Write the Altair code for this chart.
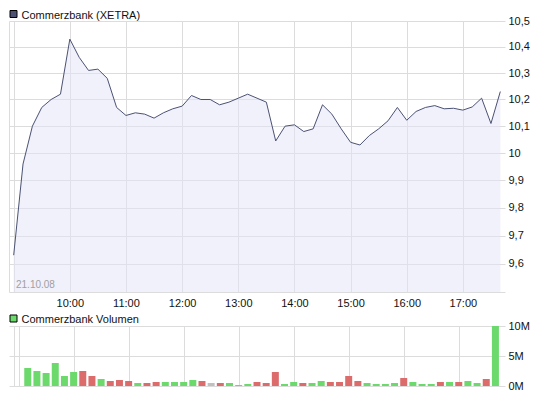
import json
import altair as alt
import pandas as pd

# ---------------- data ----------------
times = ["09:00", "09:10", "09:20", "09:30", "09:40", "09:50",
         "10:00", "10:10", "10:20", "10:30", "10:40", "10:50",
         "11:00", "11:10", "11:20", "11:30", "11:40", "11:50",
         "12:00", "12:10", "12:20", "12:30", "12:40", "12:50",
         "13:00", "13:10", "13:20", "13:30", "13:40", "13:50",
         "14:00", "14:10", "14:20", "14:30", "14:40", "14:50",
         "15:00", "15:10", "15:20", "15:30", "15:40", "15:50",
         "16:00", "16:10", "16:20", "16:30", "16:40", "16:50",
         "17:00", "17:10", "17:20", "17:30", "17:40"]

price = [9.63, 9.96, 10.10, 10.17, 10.20, 10.22,
         10.43, 10.36, 10.31, 10.315, 10.28, 10.17,
         10.14, 10.15, 10.145, 10.13, 10.15, 10.165,
         10.175, 10.215, 10.20, 10.20, 10.18, 10.19,
         10.205, 10.22, 10.205, 10.19, 10.045, 10.10,
         10.105, 10.08, 10.09, 10.18, 10.145, 10.09,
         10.04, 10.03, 10.065, 10.09, 10.12, 10.17,
         10.122, 10.155, 10.17, 10.177, 10.165, 10.167,
         10.16, 10.172, 10.205, 10.11, 10.23]

# volume bars from 09:10 to 17:40, in millions
volume_m = [3.0, 2.5, 2.17, 3.83, 1.67, 2.33, 2.5, 1.67, 1.17, 0.83,
            1.0, 0.83, 0.5, 0.5, 0.67, 0.67, 0.67, 0.67, 1.0, 0.83,
            0.5, 0.5, 0.5, 0.17, 0.33, 0.67, 0.5, 2.33, 0.33, 0.67,
            0.5, 0.5, 0.83, 0.67, 0.67, 1.67, 0.83, 0.5, 0.33, 0.33,
            0.5, 1.33, 0.67, 0.33, 0.33, 0.67, 0.67, 0.67, 0.83, 0.5,
            1.17, 10.0]

direction = ["up", "up", "up", "up", "up", "up", "down", "down", "up", "down",
             "down", "down", "up", "down", "down", "up", "up", "up", "up", "down",
             "flat", "down", "up", "up", "up", "down", "down", "down", "up", "up",
             "down", "up", "up", "down", "down", "down", "down", "up", "up", "up",
             "up", "down", "up", "up", "up", "down", "up", "down", "up", "up",
             "down", "up"]

x_start, x_end = "08:55", "17:45"
hour_ticks = ["09:00", "10:00", "11:00", "12:00", "13:00",
              "14:00", "15:00", "16:00", "17:00"]
hour_labels = ["", "10:00", "11:00", "12:00", "13:00",
               "14:00", "15:00", "16:00", "17:00"]

price_ticks = [9.6, 9.7, 9.8, 9.9, 10.0, 10.1, 10.2, 10.3, 10.4, 10.5]
price_domain = [9.5, 10.5]
vol_ticks = [0, 5_000_000, 10_000_000]
vol_tick_labels = ["0M", "5M", "10M"]

price_title = "Commerzbank (XETRA)"
vol_title = "Commerzbank Volumen"
date_label = "21.10.08"

# ---------------- helpers ----------------
def to_min(s):
    h, m = s.split(":")
    return (int(h) - 9) * 60 + int(m)

price_df = pd.DataFrame({"t": [to_min(s) for s in times], "price": price})
vol_df = pd.DataFrame({
    "t": [to_min(s) for s in times[1:]],
    "vol": [v * 1_000_000 for v in volume_m],
    "dir": direction,
})

x_grid = [to_min(x_start)] + [to_min(h) for h in hour_ticks]
x_label_map = {str(to_min(h)): lab for h, lab in zip(hour_ticks, hour_labels)}
x_label_expr = json.dumps(x_label_map) + "[datum.value] || ''"
vol_label_map = {str(v): lab for v, lab in zip(vol_ticks, vol_tick_labels)}
vol_label_expr = json.dumps(vol_label_map) + "[datum.value] || ''"

FONT = "Liberation Sans"
TXT = "#111111"
GRID = "#dcdcdc"
LINE = "#4b5273"
FILL = "#e3e3f9"
W, H1, H2 = 496, 271, 60

xscale = alt.Scale(domain=[to_min(x_start), to_min(x_end)], nice=False, zero=False)

# ---------------- price panel ----------------
x_price = alt.X("t:Q", scale=xscale, title=None,
                axis=alt.Axis(values=x_grid, labelExpr=x_label_expr, grid=True,
                              gridColor=GRID, domain=True, domainColor=GRID,
                              ticks=False, labelPadding=5, labelFontSize=11,
                              labelFont=FONT, labelColor=TXT, labelAngle=0,
                              labelFlush=False))
y_price = alt.Y("price:Q",
                scale=alt.Scale(type="log", domain=price_domain, nice=False, zero=False),
                title=None,
                axis=alt.Axis(orient="right", values=price_ticks,
                              labelExpr="replace(format(datum.value, '.1~f'), '.', ',')",
                              grid=True, gridColor=GRID, domain=False, ticks=False,
                              labelPadding=3, labelFontSize=11, labelFont=FONT,
                              labelColor=TXT, labelFlush=False))

pbase = alt.Chart(price_df)
area = pbase.mark_area(color=FILL, opacity=0.5).encode(
    x=x_price, y=y_price, y2=alt.Y2(datum=price_domain[0]))
line = pbase.mark_line(color=LINE, strokeWidth=1).encode(x="t:Q", y="price:Q")

date_txt = alt.Chart(pd.DataFrame({"label": [date_label]})).mark_text(
    align="left", baseline="alphabetic", fontSize=10, font=FONT, color="#a0a0a0"
).encode(x=alt.value(7), y=alt.value(H1 - 4), text="label:N")

p_leg_df = pd.DataFrame({"label": [price_title]})
p_sq = alt.Chart(p_leg_df).mark_square(size=49, fill=LINE, stroke="#000000",
                                       strokeWidth=1, opacity=1).encode(
    x=alt.value(4.5), y=alt.value(-7))
p_txt = alt.Chart(p_leg_df).mark_text(align="left", baseline="top", fontSize=11,
                                      font=FONT, color=TXT).encode(
    x=alt.value(12.5), y=alt.value(-11.5), text="label:N")

price_chart = alt.layer(area, line, date_txt, p_sq, p_txt).properties(width=W, height=H1)

# ---------------- volume panel ----------------
x_vol = alt.X("t:Q", scale=xscale, title=None,
              axis=alt.Axis(values=x_grid, labels=False, grid=True, gridColor=GRID,
                            domain=False, ticks=False))
y_vol = alt.Y("vol:Q", scale=alt.Scale(domain=[vol_ticks[0], vol_ticks[-1]], nice=False),
              title=None,
              axis=alt.Axis(orient="right", values=vol_ticks, labelExpr=vol_label_expr,
                            grid=True, gridColor=GRID, domain=False, ticks=False,
                            labelPadding=3, labelFontSize=11, labelFont=FONT,
                            labelColor=TXT, labelFlush=False))
bars = alt.Chart(vol_df).mark_bar(size=7).encode(
    x=x_vol, y=y_vol,
    color=alt.Color("dir:N", legend=None,
                    scale=alt.Scale(domain=["up", "down", "flat"],
                                    range=["#6cd96c", "#dc6c6c", "#c0c0c0"])))

v_leg_df = pd.DataFrame({"label": [vol_title]})
v_sq = alt.Chart(v_leg_df).mark_square(size=49, fill="#6cd96c", stroke="#000000",
                                       strokeWidth=1, opacity=1).encode(
    x=alt.value(4.5), y=alt.value(-7.5))
v_txt = alt.Chart(v_leg_df).mark_text(align="left", baseline="top", fontSize=11,
                                      font=FONT, color=TXT).encode(
    x=alt.value(12.5), y=alt.value(-11.8), text="label:N")

vol_chart = alt.layer(bars, v_sq, v_txt).properties(width=W, height=H2)

chart = alt.vconcat(price_chart, vol_chart, spacing=5).properties(
    padding=0, background="#ffffff"
).configure_view(stroke=None)

chart.save("out.html", embed_options={"renderer": "svg", "actions": False})
